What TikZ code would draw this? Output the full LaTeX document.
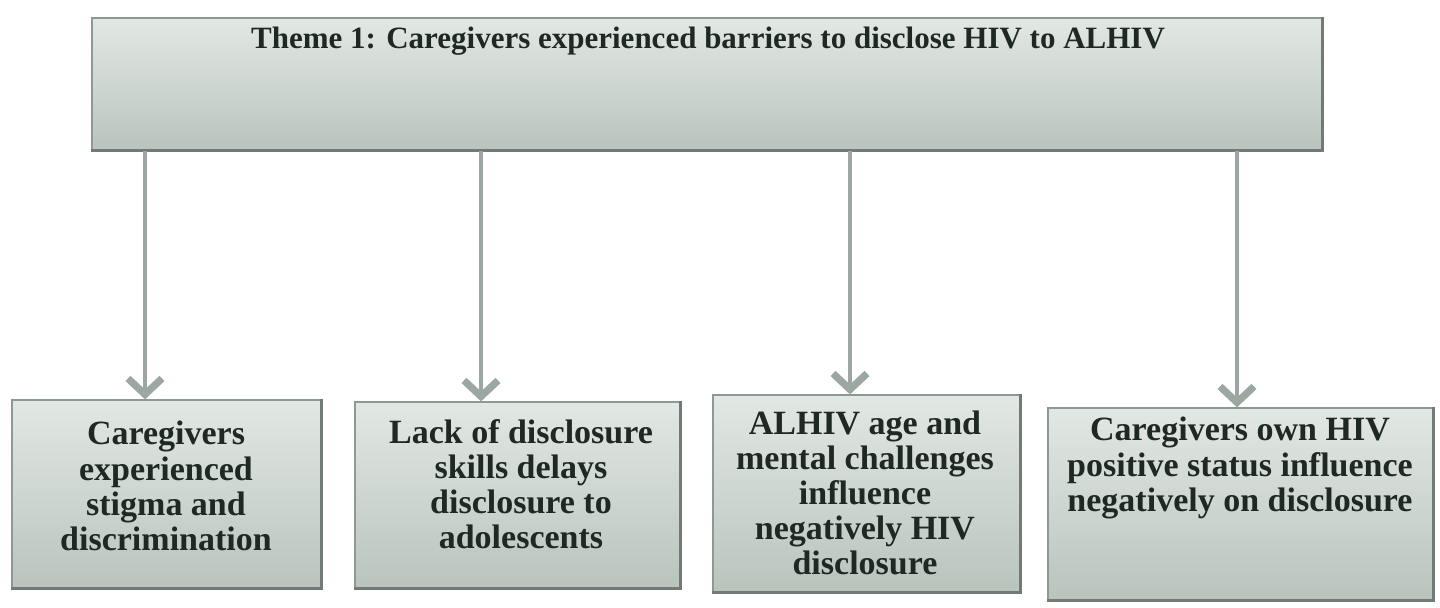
\documentclass[tikz,border=0pt]{standalone}
\usepackage{fontspec}
\setmainfont{Liberation Serif}
\usetikzlibrary{arrows.meta}
\definecolor{boxtop}{HTML}{E2E8E4}
\definecolor{boxbot}{HTML}{B9C4BD}
\definecolor{boxedge}{HTML}{8E9993}
\definecolor{arrowc}{HTML}{9CA7A1}
\definecolor{inkc}{HTML}{1F2924}
\tikzset{
  themebox/.style={rectangle, draw=boxedge, line width=0.6pt,
    top color=boxtop, bottom color=boxbot, inner sep=0pt},
  boxshade/.style={draw=boxedge!80!black, line width=1.4pt},
  boxtext/.style={align=center, text=inkc, font=\bfseries\fontsize{17}{17.6}\selectfont},
  titletext/.style={text=inkc, font=\bfseries\fontsize{15.5}{18}\selectfont},
  link/.style={draw=arrowc, line width=2.4pt,
    -{Straight Barb[length=8pt,width=17pt,line width=3.6pt]}}
}
\begin{document}
\begin{tikzpicture}[x=0.5pt,y=-0.5pt]
\useasboundingbox (0,0) rectangle (1440,608);
\fill[white] (0,0) rectangle (1440,608);

% theme box
\node[themebox, minimum width=615pt, minimum height=66pt] (theme) at (707,84) {};
\draw[boxshade] (theme.south west) -- (theme.south east) -- (theme.north east);
\node[titletext] (title) at (708,41) {Theme 1: Caregivers experienced barriers to disclose HIV to ALHIV};

% sub-theme boxes
\node[themebox, minimum width=154.5pt, minimum height=94pt] (b1) at (166.5,494) {};
\node[themebox, minimum width=162.5pt, minimum height=93pt] (b2) at (517.5,495) {};
\node[themebox, minimum width=153.5pt, minimum height=98.5pt] (b3) at (866.5,493.5) {};
\node[themebox, minimum width=192.5pt, minimum height=96pt] (b4) at (1240.5,504) {};
\foreach \b in {b1,b2,b3,b4}
  \draw[boxshade] (\b.south west) -- (\b.south east) -- (\b.north east);

\node[boxtext] (t1) at (166,486) {Caregivers\\experienced\\stigma and\\discrimination};
\node[boxtext] (t2) at (521,484) {Lack of disclosure\\skills delays\\disclosure to\\adolescents};
\node[boxtext] (t3) at (865,493) {ALHIV age and\\mental challenges\\influence\\negatively HIV\\disclosure};
\node[boxtext] (t4) at (1240,468) {Caregivers own HIV\\positive status influence\\negatively on disclosure};

% connectors from the theme box down to each sub-theme
\path (theme.south) ++(-562,0) coordinate (s1);
\path (theme.south) ++(-226,0) coordinate (s2);
\path (theme.south) ++(143,0) coordinate (s3);
\path (theme.south) ++(530,0) coordinate (s4);
\draw[link] (s1) -- (s1 |- b1.north);
\draw[link] (s2) -- (s2 |- b2.north);
\draw[link] (s3) -- (s3 |- b3.north);
\draw[link] (s4) -- (s4 |- b4.north);
\end{tikzpicture}
\end{document}
